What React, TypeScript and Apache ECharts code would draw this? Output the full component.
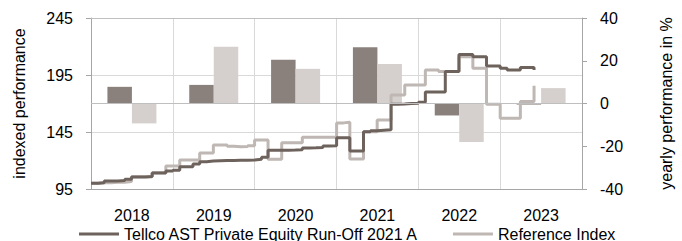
import React, { useEffect, useRef } from "react";
import * as echarts from "echarts";

const years = ["2018", "2019", "2020", "2021", "2022", "2023"];
const tellcoYearly = [7.8, 8.7, 20.5, 26.3, -5.6, -0.5];
const referenceYearly = [-9.3, 26.5, 16.2, 18.5, -18, 7.2];

const tellcoIndex = [
  100, 100.5, 102, 102, 102.5, 103.5, 105.5, 105.5, 106, 109, 109, 110.8,
  111.5, 114.6, 114.6, 117, 119, 119.5, 119.8, 120, 120, 120.2, 120.3, 120.5,
  121, 122.8, 129, 129, 129, 129.2, 129.5, 131, 131.2, 131.5, 132.7, 133,
  140, 140, 128.3, 128.3, 145.3, 146, 146.5, 147, 169.3, 169.5, 170, 170.2,
  171, 180, 180, 180, 198, 198, 213, 213, 211, 211, 203, 203,
  201, 199.4, 199.4, 201.5, 201.5, 199.4,
];
const referenceIndex = [
  100, 100.5, 100.5, 101, 101, 101.5, 105.8, 105.8, 105.8, 109.3, 109.3, 115.2,
  115.2, 120.4, 120.4, 120.4, 126.5, 126.5, 133.6, 133.6, 132.5, 132, 132.3, 133,
  138, 138, 121, 121, 135.6, 135.6, 135.6, 140.3, 140.3, 140.3, 140.3, 140.5,
  153, 153.5, 121.3, 121.3, 145.3, 145.3, 155.5, 155.5, 177.5, 177.5, 186.2, 186.2,
  186.2, 199.4, 199.4, 198, 198, 198, 211, 211, 201, 201, 169.3, 169.3,
  157, 157, 157, 171.7, 171.7, 185.6,
];
const leftTicks = [95, 145, 195, 245];

const months: string[] = [];
for (let i = 0; i < tellcoIndex.length; i++) {
  const y = 2018 + Math.floor(i / 12);
  const m = (i % 12) + 1;
  months.push(`${y}-${m < 10 ? "0" + m : m}-01`);
}

const NAME_T = "Tellco AST Private Equity Run-Off 2021 A";
const NAME_R = "Reference Index";
const FONT = "Liberation Sans";

export default function App() {
  const ref = useRef<HTMLDivElement>(null);
  useEffect(() => {
    document.body.style.margin = "0";
    const chart = echarts.init(ref.current!, undefined, { renderer: "svg" });
    const txt = { fontFamily: FONT, fontSize: 16, color: "#000" };
    chart.setOption({
      animation: false,
      textStyle: { fontFamily: FONT },
      grid: { left: 91, right: 75, top: 18, bottom: 52 },
      legend: {
        left: 79,
        top: 226,
        padding: 0,
        itemWidth: 40,
        itemHeight: 3,
        itemGap: 34,
        icon: "rect",
        textStyle: txt,
        data: [NAME_T, NAME_R],
      },
      xAxis: [
        {
          type: "category",
          data: years,
          position: "bottom",
          axisLine: { show: true, onZero: false, lineStyle: { color: "#a6a6a6" } },
          axisTick: { show: false },
          axisLabel: { ...txt, margin: 18 },
          splitLine: { show: true, lineStyle: { color: "#d9d9d9" } },
        },
        {
          type: "time",
          position: "top",
          min: "2018-01-01",
          max: "2024-01-01",
          axisLine: { show: true, onZero: false, lineStyle: { color: "#bfbfbf" } },
          axisTick: { show: false },
          axisLabel: { show: false },
          splitLine: { show: false },
        },
      ],
      yAxis: [
        {
          type: "value",
          min: 95,
          max: 245,
          interval: 50,
          name: "indexed performance",
          nameLocation: "middle",
          nameGap: 64,
          nameTextStyle: txt,
          axisLine: { show: true, lineStyle: { color: "#a6a6a6" } },
          axisTick: { show: true, length: 5, customValues: leftTicks, lineStyle: { color: "#a6a6a6" } },
          axisLabel: { ...txt, margin: 18, customValues: leftTicks },
          splitLine: { show: true, lineStyle: { color: "#d9d9d9" } },
        },
        {
          type: "value",
          min: -40,
          max: 40,
          interval: 20,
          name: "yearly performance in %",
          nameLocation: "middle",
          nameGap: 76,
          nameRotate: 90,
          nameTextStyle: txt,
          axisLine: { show: true, lineStyle: { color: "#a6a6a6" } },
          axisTick: { show: true, length: 5, lineStyle: { color: "#a6a6a6" } },
          axisLabel: { ...txt, margin: 18 },
          splitLine: { show: false },
        },
      ],
      series: [
        {
          name: "Tellco yearly",
          type: "bar",
          xAxisIndex: 0,
          yAxisIndex: 1,
          data: tellcoYearly,
          barWidth: 24.5,
          barGap: "0%",
          itemStyle: { color: "#8b817c" },
          markLine: {
            silent: true,
            symbol: "none",
            label: { show: false },
            lineStyle: { color: "#bfbfbf", width: 1, type: "solid" },
            data: [{ yAxis: 0 }],
          },
        },
        {
          name: "Reference yearly",
          type: "bar",
          xAxisIndex: 0,
          yAxisIndex: 1,
          data: referenceYearly,
          barWidth: 24.5,
          barGap: "0%",
          itemStyle: { color: "#d5d0cd" },
        },
        {
          name: NAME_R,
          type: "line",
          xAxisIndex: 1,
          yAxisIndex: 0,
          step: "end",
          symbol: "none",
          data: months.map((d, i) => [d, referenceIndex[i]]),
          lineStyle: { color: "#bfb7b3", width: 3 },
          itemStyle: { color: "#bfb7b3" },
        },
        {
          name: NAME_T,
          type: "line",
          xAxisIndex: 1,
          yAxisIndex: 0,
          step: "end",
          symbol: "none",
          data: months.map((d, i) => [d, tellcoIndex[i]]),
          lineStyle: { color: "#6e625c", width: 3 },
          itemStyle: { color: "#6e625c" },
        },
      ],
    });
    return () => chart.dispose();
  }, []);
  return <div ref={ref} style={{ width: 682, height: 241 }} />;
}
